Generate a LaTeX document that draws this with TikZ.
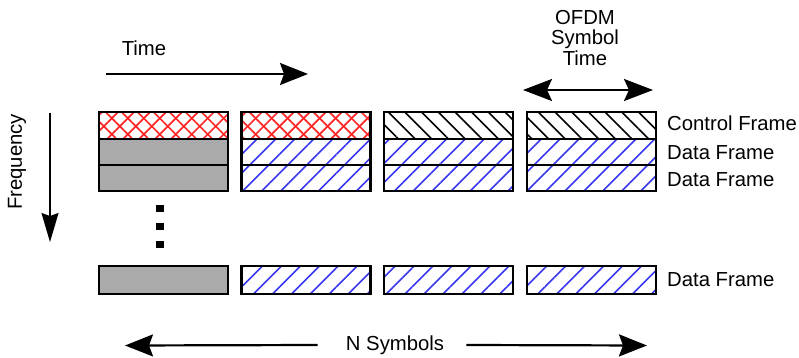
\documentclass[tikz,border=0pt]{standalone}
\usepackage{fontspec}
\setmainfont{Liberation Sans}
\usetikzlibrary{arrows.meta,patterns.meta}

\definecolor{hatchred}{RGB}{255,40,40}
\definecolor{hatchblue}{RGB}{55,55,240}
\definecolor{slotgray}{RGB}{170,170,170}

\tikzset{
  slot/.style={draw=black, line width=2.4pt},
  ctrlcross/.style={pattern={Lines[angle=45,distance=11.3pt,line width=1.7pt]}, pattern color=hatchred},
  ctrlcrossb/.style={pattern={Lines[angle=-45,distance=11.3pt,line width=1.7pt]}, pattern color=hatchred},
  ctrlhatch/.style={pattern={Lines[angle=-45,distance=11.8pt,line width=1.6pt]}, pattern color=black},
  datahatch/.style={pattern={Lines[angle=45,distance=13.4pt,line width=1.6pt]}, pattern color=hatchblue},
  datagray/.style={fill=slotgray},
  lbl/.style={font=\fontsize{20.3}{20.5}\selectfont, inner sep=0pt},
  axis/.style={line width=2.2pt, -{Stealth[length=28pt,width=22pt,inset=4pt]}},
}

\begin{document}
\begin{tikzpicture}[x=1pt,y=-1pt]
 \useasboundingbox (0,0) rectangle (799,358);
 % symbol columns: control row, two data rows and the last data row
 \foreach \x/\ctrl/\data in {99/ctrlcross/datagray, 241.5/ctrlcross/datahatch,
                             384/ctrlhatch/datahatch, 527/ctrlhatch/datahatch} {
   \path[\ctrl] (\x,112) rectangle ++(129,27);
   \path[\data] (\x,139) rectangle ++(129,52);
   \path[\data] (\x,266) rectangle ++(129,28);
 }
 \foreach \x in {99,241.5} \path[ctrlcrossb] (\x,112) rectangle ++(129,27);
 \foreach \x in {99,241.5,384,527} {
   \draw[slot] (\x,112) rectangle ++(129,79);
   \draw[slot] (\x,139) -- ++(129,0) (\x,165) -- ++(129,0);
   \draw[slot] (\x,266) rectangle ++(129,28);
 }
 % dots between the rows
 \foreach \y in {208,226,244} \fill (156,\y-3.5) rectangle ++(8,7);

 % row labels
 \node[lbl, anchor=west] (ctrl) at (667,123) {Control Frame};
 \node[lbl, anchor=west] (data1) at (667,153) {Data Frame};
 \node[lbl, anchor=west] (data2) at (667,180) {Data Frame};
 \node[lbl, anchor=west] (datan) at (667,280) {Data Frame};

 % time axis
 \node[lbl] (time) at (144,48) {Time};
 \coordinate (time-a) at (106,74);
 \coordinate (time-b) at (308,74);
 \draw[axis] (time-a) -- (time-b);

 % one symbol time
 \node[lbl, align=center] (ofdm) at (585,38) {OFDM\\Symbol\\Time};
 \coordinate (sym-a) at (523,90);
 \coordinate (sym-b) at (653,90);
 \draw[line width=2.2pt, {Stealth[length=29pt,width=22pt,inset=5pt]}-{Stealth[length=29pt,width=22pt,inset=5pt]}] (sym-a) -- (sym-b);

 % frequency axis
 \node[lbl, rotate=90] (freq) at (17,162) {Frequency};
 \coordinate (freq-a) at (50,113);
 \coordinate (freq-b) at (50,242);
 \draw[line width=1.6pt, -{Stealth[length=29pt,width=17pt,inset=3pt]}] (freq-a) -- (freq-b);

 % N symbols
 \node[lbl] (nsym) at (395,345) {N Symbols};
 \coordinate (n-left) at (125,345.5);
 \coordinate (n-right) at (647,345.5);
 \draw[axis] ([xshift=-28pt]nsym.west) -- (n-left);
 \draw[axis] ([xshift=22pt]nsym.east) -- (n-right);
\end{tikzpicture}
\end{document}
